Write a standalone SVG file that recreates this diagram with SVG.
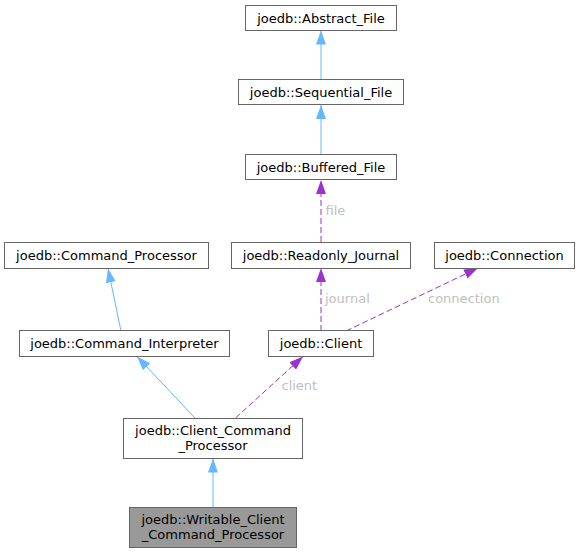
<svg xmlns="http://www.w3.org/2000/svg" width="579" height="553" viewBox="0 0 579 553">
<style>
.box{fill:#ffffff;stroke:#666666;stroke-width:1}
.cur{fill:#999999;stroke:#666666;stroke-width:1}
.t{font-family:"DejaVu Sans",sans-serif;font-size:13px;fill:#000000;text-anchor:middle}
.lbl{font-family:"DejaVu Sans",sans-serif;font-size:13px;fill:#c0c0c0}
.inh{stroke:#63b8ff;stroke-width:1;fill:none;marker-end:url(#ab)}
.use{stroke:#9a32cd;stroke-width:1;fill:none;stroke-dasharray:6,3;marker-end:url(#ap)}
</style>
<defs>
<marker id="ab" viewBox="0 -5 14 10" refX="14" refY="0" markerWidth="14" markerHeight="10" markerUnits="userSpaceOnUse" orient="auto">
<path d="M0,-5 L14,0 L0,5 z" fill="#63b8ff"/>
</marker>
<marker id="ap" viewBox="0 -5 14 10" refX="14" refY="0" markerWidth="14" markerHeight="10" markerUnits="userSpaceOnUse" orient="auto">
<path d="M0,-5 L14,0 L0,5 z" fill="#9a32cd"/>
</marker>
</defs>
<g id="edges">
<line class="inh" x1="321" y1="79" x2="321" y2="30.5"/>
<line class="inh" x1="321" y1="154" x2="321" y2="105"/>
<line class="use" x1="321" y1="242" x2="321" y2="180"/>
<text class="lbl" x="325.5" y="214.5">file</text>
<line class="use" x1="321" y1="331" x2="321" y2="268"/>
<text class="lbl" x="325" y="302.5">journal</text>
<line class="use" x1="346" y1="331" x2="478" y2="268"/>
<text class="lbl" x="428" y="302.5">connection</text>
<line class="inh" x1="121" y1="331" x2="108" y2="268.5"/>
<line class="inh" x1="195" y1="418" x2="137" y2="356.5"/>
<line class="use" x1="235.5" y1="418" x2="303" y2="356.5"/>
<text class="lbl" x="281.5" y="390">client</text>
<line class="inh" x1="213" y1="508" x2="213" y2="458.5"/>
</g>
<g id="abstract_file">
<rect class="box" x="245.5" y="5.5" width="151" height="25"/>
<text class="t" x="321" y="22.5">joedb::Abstract_File</text>
</g>
<g id="sequential_file">
<rect class="box" x="238.5" y="79.5" width="165" height="25"/>
<text class="t" x="321" y="96.5">joedb::Sequential_File</text>
</g>
<g id="buffered_file">
<rect class="box" x="245.5" y="154.5" width="151" height="25"/>
<text class="t" x="321" y="171.5">joedb::Buffered_File</text>
</g>
<g id="command_processor">
<rect class="box" x="4.5" y="242.5" width="204" height="26"/>
<text class="t" x="106.5" y="259.5">joedb::Command_Processor</text>
</g>
<g id="readonly_journal">
<rect class="box" x="231.5" y="242.5" width="179" height="26"/>
<text class="t" x="321" y="259.5">joedb::Readonly_Journal</text>
</g>
<g id="connection">
<rect class="box" x="434.5" y="242.5" width="140" height="26"/>
<text class="t" x="504.5" y="259.5">joedb::Connection</text>
</g>
<g id="command_interpreter">
<rect class="box" x="19.5" y="330.5" width="210" height="26"/>
<text class="t" x="124.5" y="347.5">joedb::Command_Interpreter</text>
</g>
<g id="client">
<rect class="box" x="268.5" y="330.5" width="105" height="26"/>
<text class="t" x="321" y="347.5">joedb::Client</text>
</g>
<g id="client_command_processor">
<rect class="box" x="123.5" y="418.5" width="179" height="40"/>
<text class="t" x="213" y="434.5">joedb::Client_Command</text>
<text class="t" x="213" y="449.5">_Processor</text>
</g>
<g id="writable_client_command_processor">
<rect class="cur" x="129.5" y="507.5" width="167" height="40"/>
<text class="t" x="213" y="523.5">joedb::Writable_Client</text>
<text class="t" x="213" y="538.5">_Command_Processor</text>
</g>
</svg>
